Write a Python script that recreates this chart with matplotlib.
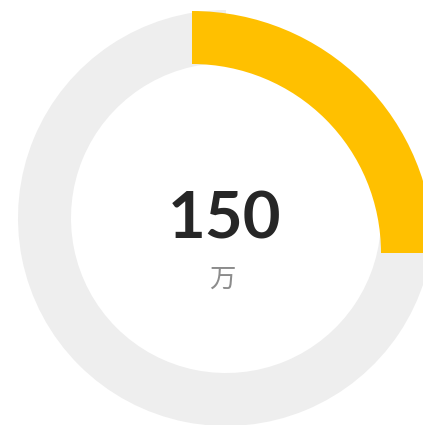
import matplotlib.pyplot as plt

# gauge data
value = 150
max_value = 600
unit = "万"

track_color = "#EEEEEE"
bar_color = "#FFC000"

W, H = 423, 425

fig = plt.figure(figsize=(W / 100, H / 100), dpi=100)
ax = fig.add_axes([0, 0, 1, 1])

# grey remainder of the track
ax.pie([value, max_value - value], colors=["none", track_color], radius=208,
       center=(226, H - 218), startangle=90, counterclock=False,
       wedgeprops=dict(width=53, linewidth=0))

# progress arc (rendered off-centre like the original)
ax.pie([value, max_value - value], colors=[bar_color, "none"], radius=242,
       center=(192, H - 253), startangle=90, counterclock=False,
       wedgeprops=dict(width=53, linewidth=0))

ax.text(225, H - 238, str(value), ha="center", va="baseline",
        fontsize=47, fontweight="bold", color="#262626", family="Lato")
ax.text(222, H - 287, unit, ha="center", va="baseline",
        fontsize=19, color="#8C8C8C", family=["Noto Sans CJK SC", "DejaVu Sans"])

ax.set_xlim(0, W)
ax.set_ylim(0, H)
ax.set_aspect("auto")
ax.axis("off")

fig.savefig("out.png", dpi=100)
plt.close(fig)
